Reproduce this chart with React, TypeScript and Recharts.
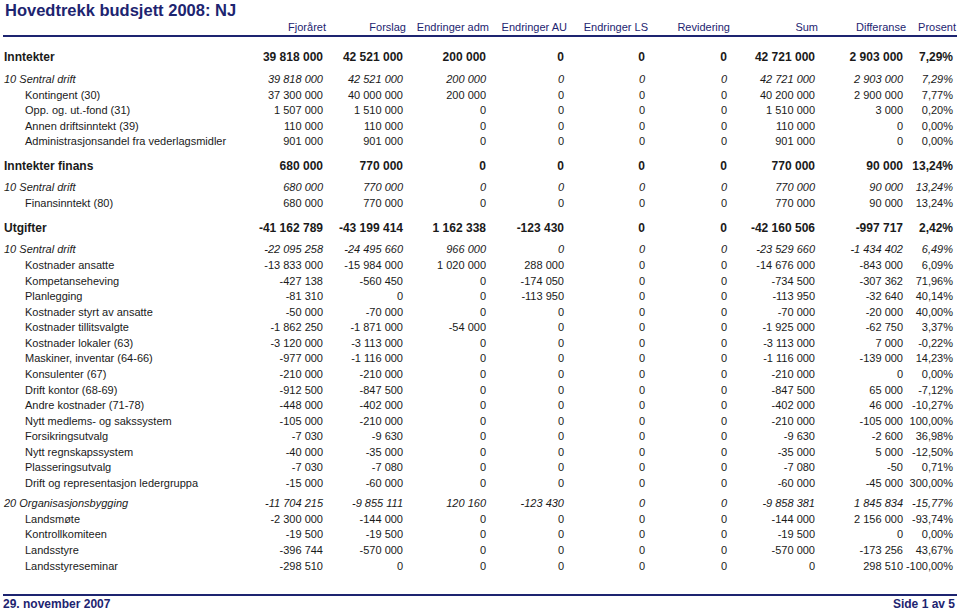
import { ScatterChart, Scatter, XAxis, YAxis } from 'recharts';

const title = 'Hovedtrekk budsjett 2008: NJ';
const footerLeft = '29. november 2007';
const footerRight = 'Side 1 av 5';

const columns = ['Fjoråret', 'Forslag', 'Endringer adm', 'Endringer AU', 'Endringer LS', 'Revidering', 'Sum', 'Differanse', 'Prosent'];

const rowLabels = [
  'Inntekter',
  '10 Sentral drift',
  'Kontingent (30)',
  'Opp. og. ut.-fond (31)',
  'Annen driftsinntekt (39)',
  'Administrasjonsandel fra vederlagsmidler',
  'Inntekter finans',
  '10 Sentral drift',
  'Finansinntekt (80)',
  'Utgifter',
  '10 Sentral drift',
  'Kostnader ansatte',
  'Kompetanseheving',
  'Planlegging',
  'Kostnader styrt av ansatte',
  'Kostnader tillitsvalgte',
  'Kostnader lokaler (63)',
  'Maskiner, inventar (64-66)',
  'Konsulenter (67)',
  'Drift kontor (68-69)',
  'Andre kostnader (71-78)',
  'Nytt medlems- og sakssystem',
  'Forsikringsutvalg',
  'Nytt regnskapssystem',
  'Plasseringsutvalg',
  'Drift og representasjon ledergruppa',
  '20 Organisasjonsbygging',
  'Landsmøte',
  'Kontrollkomiteen',
  'Landsstyre',
  'Landsstyreseminar',
];

// group = bold section, sub = italic subtotal, item = plain line
const rowKinds = [
  'group', 'sub', 'item', 'item', 'item', 'item',
  'group', 'sub', 'item',
  'group', 'sub', 'item', 'item', 'item', 'item', 'item', 'item', 'item', 'item', 'item', 'item', 'item', 'item', 'item', 'item', 'item',
  'sub', 'item', 'item', 'item', 'item',
];

const fjoraret = [39818000, 39818000, 37300000, 1507000, 110000, 901000, 680000, 680000, 680000, -41162789, -22095258, -13833000, -427138, -81310, -50000, -1862250, -3120000, -977000, -210000, -912500, -448000, -105000, -7030, -40000, -7030, -15000, -11704215, -2300000, -19500, -396744, -298510];
const forslag = [42521000, 42521000, 40000000, 1510000, 110000, 901000, 770000, 770000, 770000, -43199414, -24495660, -15984000, -560450, 0, -70000, -1871000, -3113000, -1116000, -210000, -847500, -402000, -210000, -9630, -35000, -7080, -60000, -9855111, -144000, -19500, -570000, 0];
const endrAdm = [200000, 200000, 200000, 0, 0, 0, 0, 0, 0, 1162338, 966000, 1020000, 0, 0, 0, -54000, 0, 0, 0, 0, 0, 0, 0, 0, 0, 0, 120160, 0, 0, 0, 0];
const endrAU = [0, 0, 0, 0, 0, 0, 0, 0, 0, -123430, 0, 288000, -174050, -113950, 0, 0, 0, 0, 0, 0, 0, 0, 0, 0, 0, 0, -123430, 0, 0, 0, 0];
const endrLS = [0, 0, 0, 0, 0, 0, 0, 0, 0, 0, 0, 0, 0, 0, 0, 0, 0, 0, 0, 0, 0, 0, 0, 0, 0, 0, 0, 0, 0, 0, 0];
const revidering = [0, 0, 0, 0, 0, 0, 0, 0, 0, 0, 0, 0, 0, 0, 0, 0, 0, 0, 0, 0, 0, 0, 0, 0, 0, 0, 0, 0, 0, 0, 0];
const sum = [42721000, 42721000, 40200000, 1510000, 110000, 901000, 770000, 770000, 770000, -42160506, -23529660, -14676000, -734500, -113950, -70000, -1925000, -3113000, -1116000, -210000, -847500, -402000, -210000, -9630, -35000, -7080, -60000, -9858381, -144000, -19500, -570000, 0];
const differanse = [2903000, 2903000, 2900000, 3000, 0, 0, 90000, 90000, 90000, -997717, -1434402, -843000, -307362, -32640, -20000, -62750, 7000, -139000, 0, 65000, 46000, -105000, -2600, 5000, -50, -45000, 1845834, 2156000, 0, -173256, 298510];
const prosent = [7.29, 7.29, 7.77, 0.2, 0, 0, 13.24, 13.24, 13.24, 2.42, 6.49, 6.09, 71.96, 40.14, 40.0, 3.37, -0.22, 14.23, 0, -7.12, -10.27, 100.0, 36.98, -12.5, 0.71, 300.0, -15.77, -93.74, 0, 43.67, -100.0];

const valueCols = [fjoraret, forslag, endrAdm, endrAU, endrLS, revidering, sum, differanse, prosent];

// layout
const W = 960;
const H = 612;
const HEAD_H = 36;
const FOOT_H = 17;
const colRight = [323, 403, 486, 564, 645, 727, 815, 903, 953];
const NAVY = '#1d2470';
const FONT = '"Liberation Sans", Arial, Helvetica, sans-serif';

const fmtNum = (v: number) => {
  const s = Math.abs(v).toString().replace(/\B(?=(\d{3})+(?!\d))/g, ' ');
  return (v < 0 ? '-' : '') + s;
};
const fmtPct = (v: number) => v.toFixed(2).replace('.', ',') + '%';

const rowY: number[] = [];
rowKinds.forEach((kind, i) => {
  const prev = i > 0 ? rowKinds[i - 1] : null;
  let gap = 15.55;
  if (!prev) gap = 21;
  else if (kind === 'group') gap = 24.5;
  else if (kind === 'sub') gap = prev === 'group' ? 21.5 : 20;
  else if (prev === 'sub') gap = 16;
  rowY.push((i > 0 ? rowY[i - 1] : 0) + gap);
});

const labelData = rowLabels.map((t, i) => ({
  x: rowKinds[i] === 'item' ? 25 : 4,
  y: rowY[i],
  text: t,
  kind: rowKinds[i],
  anchor: 'start',
}));

const colData = valueCols.map((vals, c) =>
  vals.map((v, i) => ({
    x: colRight[c],
    y: rowY[i],
    text: c === 8 ? fmtPct(v) : fmtNum(v),
    kind: rowKinds[i],
    anchor: 'end',
  }))
);

const CellText = (props: any) => {
  const p = props.payload ?? props;
  const bold = p.kind === 'group';
  return (
    <text
      x={props.cx}
      y={props.cy}
      dominantBaseline="central"
      textAnchor={p.anchor}
      fontFamily={FONT}
      fontSize={bold ? 12 : 11}
      fontWeight={bold ? 'bold' : 'normal'}
      fontStyle={p.kind === 'sub' ? 'italic' : 'normal'}
      fill="#1a1a1a"
    >
      {p.text}
    </text>
  );
};

const HeaderTick = (props: any) => {
  const idx = colRight.indexOf(props.payload.value);
  return (
    <text x={props.x + 3} y={props.y - 5} textAnchor="end" fontFamily={FONT} fontSize={11} fill={NAVY}>
      {columns[idx]}
    </text>
  );
};

const footStyle = {
  position: 'absolute' as const,
  top: H - FOOT_H + 1,
  lineHeight: '16px',
  fontFamily: FONT,
  fontSize: 12,
  fontWeight: 'bold' as const,
  color: NAVY,
};

export default function App() {
  return (
    <div style={{ position: 'absolute', left: 0, top: 0, width: W, height: H, background: '#fff' }}>
      <div
        style={{
          position: 'absolute',
          left: 5,
          top: 0,
          lineHeight: '20px',
          fontFamily: FONT,
          fontSize: 16.5,
          fontWeight: 'bold',
          color: NAVY,
        }}
      >
        {title}
      </div>
      <ScatterChart width={W} height={H} margin={{ top: 0, right: 3, bottom: 0, left: 3 }}>
        <XAxis
          xAxisId="head"
          orientation="top"
          type="number"
          dataKey="x"
          domain={[3, 957]}
          ticks={colRight}
          height={HEAD_H}
          tickSize={0}
          tickMargin={0}
          tickLine={false}
          axisLine={{ stroke: NAVY, strokeWidth: 2 }}
          tick={<HeaderTick />}
          interval={0}
        />
        <XAxis
          xAxisId="foot"
          orientation="bottom"
          type="number"
          domain={[3, 957]}
          height={FOOT_H}
          tick={false}
          tickLine={false}
          axisLine={{ stroke: NAVY, strokeWidth: 2 }}
        />
        <YAxis hide type="number" dataKey="y" domain={[0, H - HEAD_H - FOOT_H]} reversed />
        <Scatter xAxisId="head" data={labelData} shape={<CellText />} isAnimationActive={false} />
        {colData.map((d, c) => (
          <Scatter key={c} xAxisId="head" data={d} shape={<CellText />} isAnimationActive={false} />
        ))}
      </ScatterChart>
      <div style={{ ...footStyle, left: 3 }}>{footerLeft}</div>
      <div style={{ ...footStyle, right: 5 }}>{footerRight}</div>
    </div>
  );
}
